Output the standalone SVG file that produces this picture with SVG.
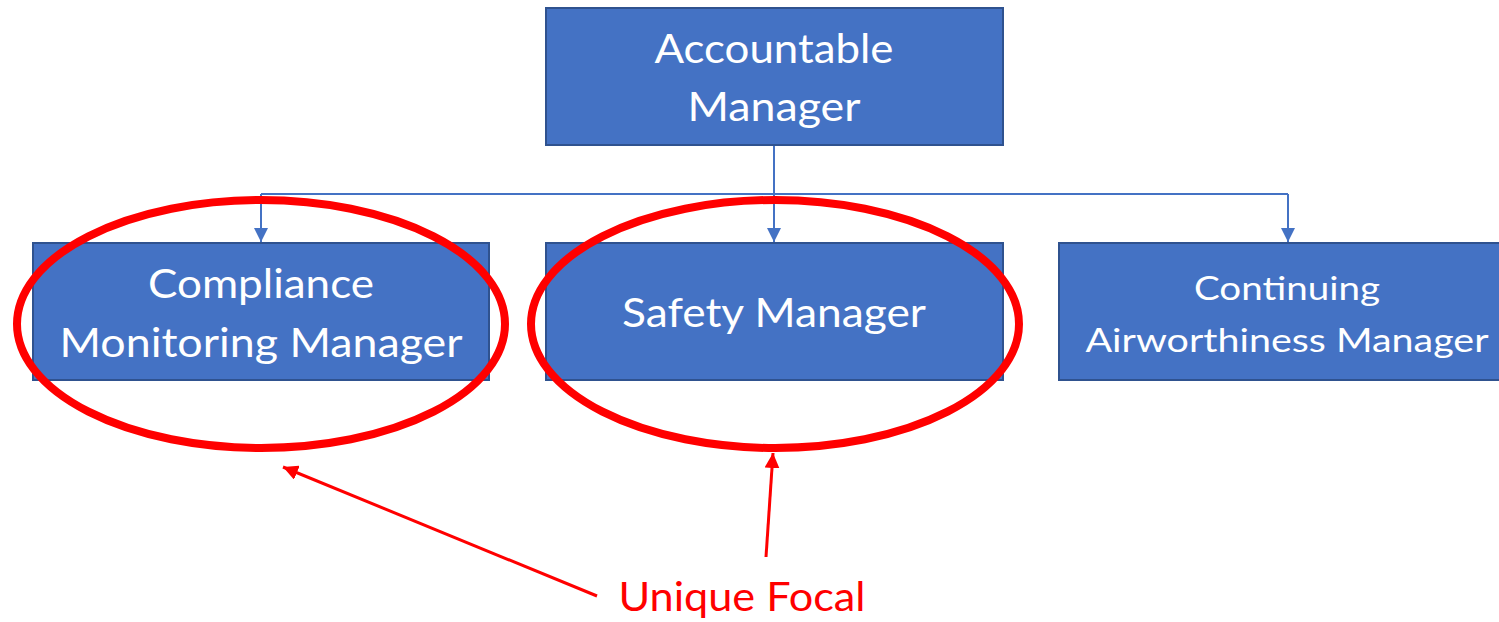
<svg xmlns="http://www.w3.org/2000/svg" width="1499" height="622" viewBox="0 0 1499 622">
  <defs>
    <style>
      .box { fill: #4472C4; stroke: #2F528F; stroke-width: 2; }
      .lbl { fill: #FFFFFF; font-family: Lato, "Open Sans", "Liberation Sans", sans-serif; font-size: 41px; text-anchor: middle; }
      .lbl-sm { font-size: 33px; }
      .conn { fill: none; stroke: #4472C4; stroke-width: 2; }
      .focus { fill: none; stroke: #FF0000; stroke-width: 8; }
      .pointer { fill: none; stroke: #FF0000; stroke-width: 3; }
      .note { fill: #FF0000; font-family: Lato, "Open Sans", "Liberation Sans", sans-serif; font-size: 41px; text-anchor: middle; }
    </style>
    <marker id="arrowBlue" viewBox="0 0 14 14" refX="14" refY="7" markerWidth="14" markerHeight="14" markerUnits="userSpaceOnUse" orient="auto">
      <path d="M0,0 L14,7 L0,14 z" fill="#4472C4"/>
    </marker>
    <marker id="arrowRed" viewBox="0 0 14 14" refX="14" refY="7" markerWidth="15" markerHeight="15" markerUnits="userSpaceOnUse" orient="auto">
      <path d="M0,0 L14,7 L0,14 z" fill="#FF0000"/>
    </marker>
  </defs>

  <rect width="1499" height="622" fill="#FFFFFF"/>

  <g id="connectors">
    <path class="conn" d="M774,145 L774,242" marker-end="url(#arrowBlue)"/>
    <path class="conn" d="M261,194 L1288,194"/>
    <path class="conn" d="M261,194 L261,242" marker-end="url(#arrowBlue)"/>
    <path class="conn" d="M1288,194 L1288,242" marker-end="url(#arrowBlue)"/>
  </g>

  <g id="accountable-manager">
    <rect class="box" x="546" y="8" width="457" height="137"/>
    <text class="lbl" x="774" y="63" textLength="239" lengthAdjust="spacingAndGlyphs">Accountable</text>
    <text class="lbl" x="774" y="121" textLength="173" lengthAdjust="spacingAndGlyphs">Manager</text>
  </g>

  <g id="compliance-monitoring-manager">
    <rect class="box" x="33" y="243" width="456" height="137"/>
    <text class="lbl" x="261" y="298" textLength="226" lengthAdjust="spacingAndGlyphs">Compliance</text>
    <text class="lbl" x="261" y="357" textLength="403" lengthAdjust="spacingAndGlyphs">Monitoring Manager</text>
  </g>

  <g id="safety-manager">
    <rect class="box" x="546" y="243" width="457" height="137"/>
    <text class="lbl" x="774" y="327" textLength="304" lengthAdjust="spacingAndGlyphs">Safety Manager</text>
  </g>

  <g id="continuing-airworthiness-manager">
    <rect class="box" x="1059" y="243" width="457" height="137"/>
    <text class="lbl lbl-sm" x="1287" y="300" textLength="186" lengthAdjust="spacingAndGlyphs">Continuing</text>
    <text class="lbl lbl-sm" x="1287" y="352" textLength="403" lengthAdjust="spacingAndGlyphs">Airworthiness Manager</text>
  </g>

  <g id="focus-compliance">
    <ellipse class="focus" cx="261" cy="324" rx="244" ry="124"/>
  </g>

  <g id="focus-safety">
    <ellipse class="focus" cx="775" cy="324" rx="244" ry="124"/>
  </g>

  <g id="pointers">
    <path class="pointer" d="M597,596 L283,467" marker-end="url(#arrowRed)"/>
    <path class="pointer" d="M766,557 L773,453" marker-end="url(#arrowRed)"/>
  </g>

  <g id="unique-focal">
    <text class="note" x="742" y="611" textLength="247" lengthAdjust="spacingAndGlyphs">Unique Focal</text>
  </g>
</svg>
